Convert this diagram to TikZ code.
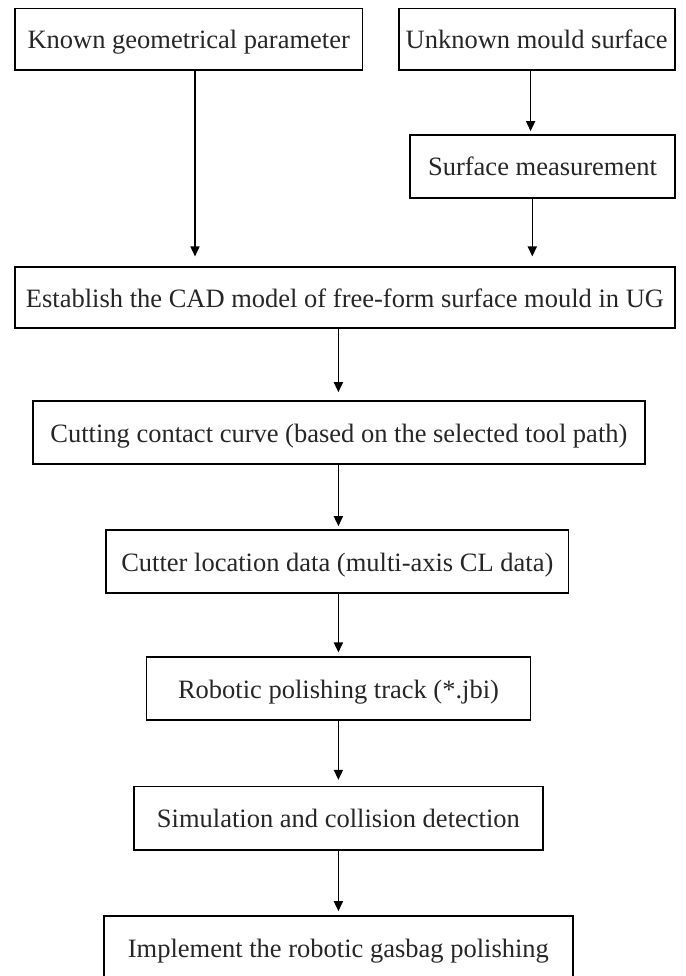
\documentclass[tikz,border=0pt]{standalone}
\usepackage{fontspec}
\setmainfont{Liberation Serif}
\usetikzlibrary{arrows.meta}
\begin{document}
\begin{tikzpicture}[x=1pt,y=-1pt,
  box/.style={draw=black, line width=1.6pt, inner sep=0pt, text height=19pt, text depth=0pt,
    font=\fontsize{26.5}{30}\selectfont, text=black!85},
  arr/.style={line width=1.6pt, -{Triangle[length=10pt,width=9pt]}}]
\useasboundingbox (0,0) rectangle (685,976);
\clip (0,0) rectangle (685,976);
\coordinate (ax) at (338.4,0);
\node[box, minimum width=347.4pt, minimum height=61.7pt] (known) at (188.7,39.2) {Known geometrical parameter};
\node[box, minimum width=276pt, minimum height=61.7pt] (unknown) at (536.7,39.2) {Unknown mould surface};
\node[box, minimum width=265pt, minimum height=63pt] (surface) at (542.5,166.5) {Surface measurement};
\node[box, minimum width=660pt, minimum height=60.7pt] (cad) at (345,297.6) {Establish the CAD model of free-form surface mould in UG};
\node[box, minimum width=612.2pt, minimum height=63pt] (cc) at (338.9,432.5) {Cutting contact curve (based on the selected tool path)};
\node[box, minimum width=462.6pt, minimum height=63pt] (cl) at (337.3,561.5) {Cutter location data (multi-axis CL data)};
\node[box, minimum width=384.3pt, minimum height=62.7pt] (track) at (338.5,688.6) {Robotic polishing track (*.jbi)\hspace{5pt}};
\node[box, minimum width=408.8pt, minimum height=63.3pt] (sim) at (338.4,818.3) {Simulation and collision detection\hspace{14pt}};
\node[box, minimum width=468.7pt, minimum height=63pt] (impl) at (338.4,947.5) {Implement the robotic gasbag polishing\hspace{14pt}};
\draw[arr, shorten >=10pt] ([xshift=6.3pt]known.south) -- ([xshift=6.3pt]known.south |- cad.north);
\draw[arr, shorten >=3pt] ([xshift=-6.1pt]unknown.south) -- ([xshift=-6.1pt]unknown.south |- surface.north);
\draw[arr, shorten >=10pt] ([xshift=-10.2pt]surface.south) -- ([xshift=-10.2pt]surface.south |- cad.north);
\draw[arr, shorten >=8pt] (cad.south -| ax) -- (cc.north -| ax);
\draw[arr, shorten >=3pt] (cc.south -| ax) -- (cl.north -| ax);
\draw[arr, shorten >=4pt] (cl.south -| ax) -- (track.north -| ax);
\draw[arr, shorten >=6pt] (track.south -| ax) -- (sim.north -| ax);
\draw[arr, shorten >=4pt] (sim.south -| ax) -- (impl.north -| ax);
\end{tikzpicture}
\end{document}
